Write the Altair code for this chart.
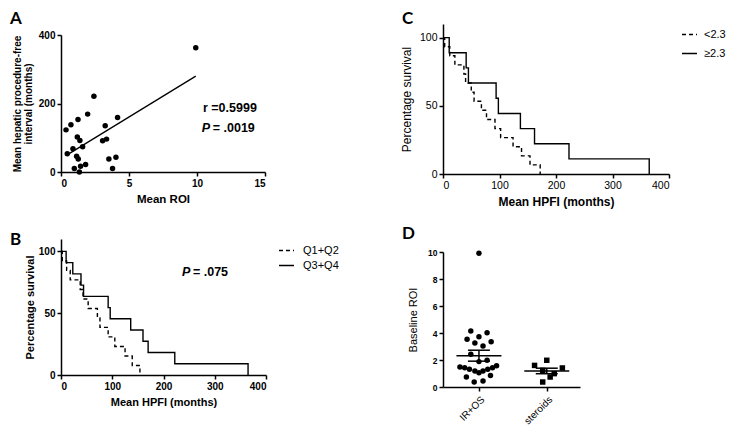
import altair as alt
import pandas as pd

# ---------------- Panel A: Mean ROI vs mean hepatic procedure-free interval
roi_a = [0.37, 0.73, 0.46, 0.88, 1.25, 1.20, 1.39, 1.59, 1.15, 1.27, 0.98, 1.35,
         1.44, 1.81, 1.96, 2.42, 3.06, 3.35, 3.25, 4.16, 3.52, 4.04, 3.79, 9.91]
hpfi_a = [123, 138, 53, 68, 153, 102, 92, 74, 46, 38, 10, 0,
          17, 22, 169, 221, 91, 96, 135, 159, 38, 43, 10, 363]
fit_roi = [0.45, 9.91]
fit_hpfi = [50, 280]

# ---------------- Panel B: survival by quartile
b_groups = ["Q1+Q2", "Q3+Q4"]
b_q12_time = [0, 2.5, 11, 18, 37.5, 43, 53, 71, 76, 92, 105, 125, 139, 154]
b_q12_surv = [100, 92.3, 84.6, 76.9, 69.2, 61.5, 53.8, 46.2, 38.5, 30.8, 23.1, 15.4, 7.7, 0]
b_q34_time = [0, 10, 23, 39, 44, 92, 96, 136, 160, 170, 222, 365]
b_q34_surv = [100, 90.9, 81.8, 72.7, 63.6, 54.5, 45.5, 36.4, 27.3, 18.2, 9.1, 0]

# ---------------- Panel C: survival by ROI cut-off
c_groups = ["<2.3", "\u22652.3"]
c_lo_time = [0, 3, 12, 21, 37, 40, 50, 55, 68, 77, 92, 102, 124, 139, 154, 172]
c_lo_surv = [100, 93.3, 86.7, 80, 73.3, 66.7, 60, 53.3, 46.7, 40, 33.3, 26.7, 20, 13.3, 6.7, 0]
c_hi_time = [0, 11, 41, 45, 94, 98, 137, 162, 223, 365]
c_hi_surv = [100, 88.9, 77.8, 66.7, 55.6, 44.4, 33.3, 22.2, 11.1, 0]

# ---------------- Panel D: baseline ROI by treatment group
d_categories = ["IR+OS", "steroids"]
d_iros_roi = [9.9, 4.15, 4.02, 3.73, 3.53, 3.36, 3.26, 3.04, 2.42, 1.88, 1.98, 1.48,
              1.43, 1.31, 1.19, 1.06, 1.19, 1.31, 1.43, 1.58, 0.74, 0.86, 0.37, 0.44]
d_iros_x = [1.0, 0.88, 1.12, 1.0, 0.825, 1.18, 0.94, 1.06, 0.88, 1.0, 1.12, 0.72,
            0.79, 0.86, 0.94, 1.0, 1.06, 1.13, 1.2, 1.26, 0.815, 1.17, 0.93, 1.06]
d_ster_roi = [1.6, 1.98, 1.23, 1.41, 0.99, 0.74, 0.37]
d_ster_x = [1.82, 2.0, 1.94, 2.23, 2.11, 2.05, 1.94]

FONT = "Liberation Sans"
BLACK = "#000000"
one = pd.DataFrame({"k": [0]})


def axis(**kw):
    base = dict(domainColor=BLACK, domainWidth=1.5, tickColor=BLACK, tickWidth=1.5,
                tickSize=4, labelColor=BLACK, titleColor=BLACK, grid=False,
                labelFont=FONT, titleFont=FONT, labelPadding=2)
    base.update(kw)
    return alt.Axis(**base)


def letter(ch, x, y):
    return alt.Chart(one).mark_text(
        text=ch, font="Lato", fontSize=17, fontWeight="bold", align="left",
        baseline="top", color=BLACK).encode(x=alt.value(x), y=alt.value(y))


def km_frame(groups, times, survs):
    rows = []
    for g, ts, ss in zip(groups, times, survs):
        for t, s in zip(ts, ss):
            rows.append({"group": g, "time": t, "surv": s})
    return pd.DataFrame(rows)


def bold_text(txt, x, y, size=12.5, italic=False, dx=0):
    kw = dict(text=txt, font=FONT, fontSize=size, fontWeight="bold", align="left",
              baseline="middle", color=BLACK, dx=dx)
    if italic:
        kw["fontStyle"] = "italic"
    return alt.Chart(one).mark_text(**kw).encode(x=alt.datum(x), y=alt.datum(y))


# ---------------- Chart A (plot block 148 px tall; data drawn in its lower 137 px)
df_a = pd.DataFrame({"roi": roi_a, "hpfi": hpfi_a})
axA_x = axis(values=[0, 5, 10, 15], title="Mean ROI", labelFontWeight="bold",
             labelFontSize=10, titleFontSize=11.5, titleFontWeight="bold", titlePadding=5)
axA_y = axis(values=[0, 100, 200, 300, 400],
             title=["Mean hepatic procedure-free", "interval  (months)"],
             labelFontWeight="bold", labelFontSize=10, titleFontSize=10,
             titleFontWeight="bold", titlePadding=5, titleLineHeight=11)
scA_x = alt.Scale(domain=[0, 15], nice=False, zero=False)
scA_y = alt.Scale(domain=[0, 400], nice=False, range=[148, 11])
xA = alt.X("roi:Q", scale=scA_x, axis=axA_x)
yA = alt.Y("hpfi:Q", scale=scA_y, axis=axA_y)
pts_a = alt.Chart(df_a).mark_circle(size=30, color=BLACK, opacity=1).encode(x=xA, y=yA)
fit_a = alt.Chart(pd.DataFrame({"roi": fit_roi, "hpfi": fit_hpfi})).mark_line(
    color=BLACK, strokeWidth=1.3).encode(x=xA, y=yA)
chart_a = alt.layer(
    pts_a, fit_a,
    bold_text("r =0.5999", 10.44, 187),
    bold_text("P", 10.35, 129, italic=True),
    bold_text("= .0019", 10.35, 129, dx=11),
    letter("A", -51, -13),
).properties(width=204, height=148)

# ---------------- Chart B
df_b = km_frame(b_groups, [b_q12_time, b_q34_time], [b_q12_surv, b_q34_surv])
line_b = alt.Chart(df_b).mark_line(interpolate="step-after", color=BLACK, strokeWidth=1.4).encode(
    x=alt.X("time:Q", scale=alt.Scale(domain=[0, 400], nice=False),
            axis=axis(values=[0, 100, 200, 300, 400], title="Mean HPFI (months)",
                      labelFontWeight="bold", labelFontSize=10, titleFontSize=11,
                      titleFontWeight="bold", titlePadding=5)),
    y=alt.Y("surv:Q", scale=alt.Scale(domain=[0, 110], nice=False),
            axis=axis(values=[0, 50, 100], title="Percentage survival",
                      labelFontWeight="bold", labelFontSize=10, titleFontSize=11,
                      titleFontWeight="bold", titlePadding=3)),
    strokeDash=alt.StrokeDash("group:N", scale=alt.Scale(domain=b_groups, range=[[4, 3], [1, 0]]),
                              legend=alt.Legend(title=None, orient="none", legendX=217, legendY=3,
                                                symbolType="stroke", symbolSize=225,
                                                symbolStrokeWidth=1.4, symbolStrokeColor=BLACK,
                                                labelFont=FONT, labelFontSize=11,
                                                labelColor=BLACK, rowPadding=1, labelOffset=8)),
)
chart_b = alt.layer(
    line_b,
    bold_text("P", 236, 83, italic=True),
    bold_text("= .075", 236, 83, dx=11),
    letter("B", -51, -7),
).properties(width=205, height=136)

# ---------------- Chart C
df_c = km_frame(c_groups, [c_lo_time, c_hi_time], [c_lo_surv, c_hi_surv])
line_c = alt.Chart(df_c).mark_line(interpolate="step-after", color=BLACK, strokeWidth=1.4).encode(
    x=alt.X("time:Q", scale=alt.Scale(domain=[0, 400], nice=False),
            axis=axis(values=[0, 100, 200, 300, 400], title="Mean HPFI (months)",
                      labelFontSize=10.5, titleFontSize=12, titleFontWeight="bold",
                      titlePadding=6)),
    y=alt.Y("surv:Q", scale=alt.Scale(domain=[0, 110], nice=False),
            axis=axis(values=[0, 50, 100], title="Percentage survival",
                      labelFontSize=10.5, titleFontSize=12, titleFontWeight="normal",
                      titlePadding=6)),
    strokeDash=alt.StrokeDash("group:N", scale=alt.Scale(domain=c_groups, range=[[4, 3], [1, 0]]),
                              legend=alt.Legend(title=None, orient="none", legendX=238, legendY=2,
                                                symbolType="stroke", symbolSize=225,
                                                symbolStrokeWidth=1.4, symbolStrokeColor=BLACK,
                                                labelFont=FONT, labelFontSize=11,
                                                labelColor=BLACK, rowPadding=5, labelOffset=6,
                                                padding=0)),
)
chart_c = alt.layer(line_c, letter("C", -41, -13)).properties(width=226, height=150)

# ---------------- Chart D (plot block 148 px tall; data drawn in its lower 135 px)
df_d = pd.DataFrame({
    "roi": d_iros_roi + d_ster_roi,
    "xpos": d_iros_x + d_ster_x,
    "grp": [1] * len(d_iros_roi) + [2] * len(d_ster_roi),
})
axD_x = axis(values=[1, 2],
             labelExpr="datum.value == 1 ? '%s' : '%s'" % tuple(d_categories),
             labelAngle=-45, labelFontSize=10, title=None, labelPadding=3)
axD_y = axis(values=[0, 2, 4, 6, 8, 10], labelFontSize=8.5, labelFontWeight="bold",
             title="Baseline ROI", titleFontSize=11, titleFontWeight="normal", titlePadding=9)
scD_x = alt.Scale(domain=[0.47, 2.49], nice=False, zero=False)
scD_y = alt.Scale(domain=[0, 10], nice=False, range=[148, 13])


def dx(f):
    return alt.X(f, scale=scD_x, axis=axD_x)


def dy(f):
    return alt.Y(f, scale=scD_y, axis=axD_y)


base_d = alt.Chart(df_d)
circ_d = base_d.transform_filter("datum.grp == 1").mark_circle(
    size=30, color=BLACK, opacity=1).encode(x=dx("xpos:Q"), y=dy("roi:Q"))
sq_d = base_d.transform_filter("datum.grp == 2").mark_square(
    size=30, color=BLACK, opacity=1).encode(x=dx("xpos:Q"), y=dy("roi:Q"))
agg_d = base_d.transform_aggregate(
    m="mean(roi)", se="stderr(roi)", groupby=["grp"]
).transform_calculate(lo="datum.m - datum.se", hi="datum.m + datum.se")
mean_d = agg_d.mark_tick(orient="horizontal", size=45, thickness=1.5, color=BLACK,
                         opacity=1).encode(x=dx("grp:Q"), y=dy("m:Q"))
lo_d = agg_d.mark_tick(orient="horizontal", size=22, thickness=1.5, color=BLACK,
                       opacity=1).encode(x=dx("grp:Q"), y=dy("lo:Q"))
hi_d = agg_d.mark_tick(orient="horizontal", size=22, thickness=1.5, color=BLACK,
                       opacity=1).encode(x=dx("grp:Q"), y=dy("hi:Q"))
bar_d = agg_d.mark_rule(color=BLACK, strokeWidth=1.5).encode(
    x=dx("grp:Q"), y=dy("lo:Q"), y2="hi:Q")
chart_d = alt.layer(circ_d, sq_d, mean_d, lo_d, hi_d, bar_d, letter("D", -41, -13)).properties(
    width=137, height=148)

chart = alt.concat(
    chart_a, chart_c, chart_b, chart_d,
    columns=2, bounds="flush", align="all",
    spacing=alt.RowColnumber(row=65, column=156),
).resolve_scale(strokeDash="independent").properties(
    padding={"left": 2, "top": 2, "right": 0, "bottom": 0},
    background="white").configure_view(stroke=None)

chart.save("out.html", embed_options={"renderer": "svg", "actions": False})
